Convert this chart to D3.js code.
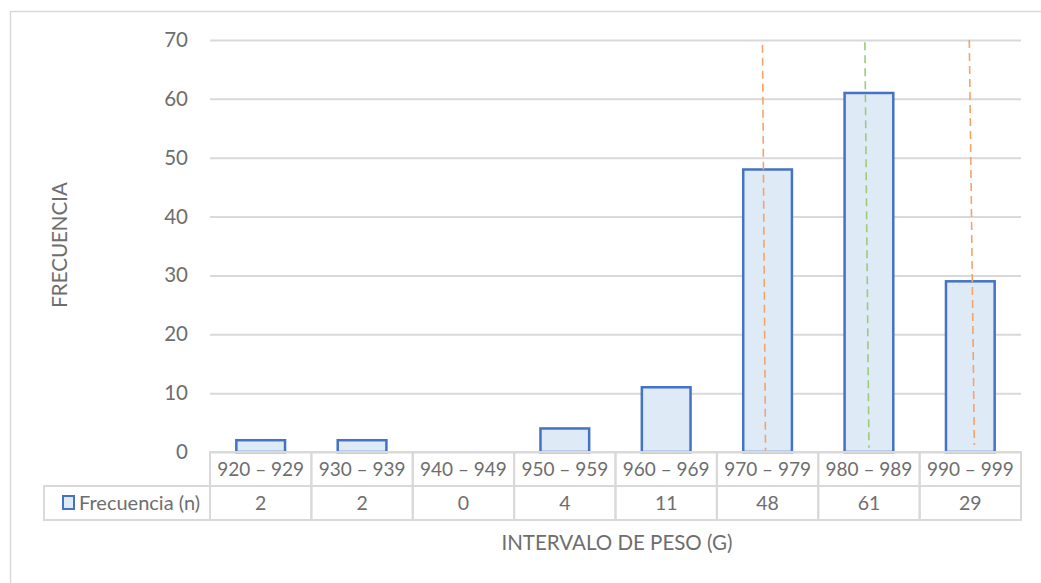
<!DOCTYPE html>
<html><head><meta charset="utf-8">
<script src="https://cdn.jsdelivr.net/npm/d3@7"></script>
<style>body{margin:0;background:#fff}svg{display:block}</style>
</head><body>
<script>
const categories = ["920 – 929","930 – 939","940 – 949","950 – 959","960 – 969","970 – 979","980 – 989","990 – 999"];
const frecuencia = [2,2,0,4,11,48,61,29];
const yTicks = [0,10,20,30,40,50,60,70];
const seriesName = "Frecuencia (n)";
// reference dashed lines: weight (g) positions at top/bottom and frequency extents
const refX1 = [974.5, 984.6, 994.9];
const refX2 = [974.8, 985.0, 995.4];
const refYTop = [69.2, 69.6, 70];
const refYBot = [0.2, 0.7, 1.2];
const refColors = ["#f4a36b","#9ccb7a","#f4a36b"];

(function(){
const W = 1041, H = 583;
const pLeft = 210, pRight = 1021, pTop = 40, pBottom = 452;
const rowH = 34;
const font = "Lato, 'Open Sans', sans-serif";
const txt = "#6e6e6e";

const svg = d3.select("body").append("svg").attr("width", W).attr("height", H);
svg.append("rect").attr("x",10.5).attr("y",11.5).attr("width",1100).attr("height",700)
  .attr("fill","#fff").attr("stroke","#d9d9d9").attr("stroke-width",1.5);

const x = d3.scaleBand().domain(categories).range([pLeft,pRight]).paddingInner(0.5).paddingOuter(0.25);
const xc = d3.scaleBand().domain(categories).range([pLeft,pRight]);
const y = d3.scaleLinear().domain([0,70]).range([pBottom,pTop]);
const xw = d3.scaleLinear().domain([920,1000]).range([pLeft,pRight]);

// grid
const yAxis = d3.axisLeft(y).tickValues(yTicks).tickSize(-(pRight-pLeft)).tickPadding(22);
const ga = svg.append("g").attr("transform",`translate(${pLeft},0)`).call(yAxis);
ga.select(".domain").remove();
ga.selectAll(".tick line").attr("stroke","#d9d9d9").attr("stroke-width",2);
ga.selectAll(".tick text").attr("fill",txt).style("font-family",font).style("font-size","20.5px");

// bars
svg.append("g").selectAll("rect").data(frecuencia).join("rect")
  .attr("x",(d,i)=>x(categories[i])+1)
  .attr("y",d=>y(d))
  .attr("width",x.bandwidth()-2)
  .attr("height",d=>pBottom-y(d))
  .attr("fill","#deebf7").attr("stroke","#4472c4").attr("stroke-width",2.5)
  .style("display",d=>d>0?null:"none");

// reference dashed lines
svg.append("g").selectAll("line").data(refX1).join("line")
  .attr("x1",(d)=>xw(d)).attr("x2",(d,i)=>xw(refX2[i]))
  .attr("y1",(d,i)=>y(refYTop[i])).attr("y2",(d,i)=>y(refYBot[i]))
  .attr("stroke",(d,i)=>refColors[i]).attr("stroke-width",1.6).attr("stroke-dasharray","8,5");

// data table
const tg = svg.append("g");
const lc = "#d9d9d9";
categories.forEach((c,i)=>{
  const x0 = xc(c);
  tg.append("rect").attr("x",x0).attr("y",pBottom).attr("width",xc.bandwidth()).attr("height",rowH)
    .attr("fill","none").attr("stroke",lc).attr("stroke-width",2);
  tg.append("rect").attr("x",x0).attr("y",pBottom+rowH).attr("width",xc.bandwidth()).attr("height",rowH)
    .attr("fill","none").attr("stroke",lc).attr("stroke-width",2);
  tg.append("text").attr("x",x0+xc.bandwidth()/2).attr("y",pBottom+rowH/2+7)
    .attr("text-anchor","middle").attr("fill",txt).style("font-family",font).style("font-size","19px").text(c);
  tg.append("text").attr("x",x0+xc.bandwidth()/2).attr("y",pBottom+rowH*1.5+7)
    .attr("text-anchor","middle").attr("fill",txt).style("font-family",font).style("font-size","19.5px").text(frecuencia[i]);
});
tg.append("rect").attr("x",44).attr("y",pBottom+rowH).attr("width",pLeft-44).attr("height",rowH)
  .attr("fill","none").attr("stroke",lc).attr("stroke-width",2);
tg.append("rect").attr("x",63).attr("y",pBottom+rowH+10).attr("width",11).attr("height",13)
  .attr("fill","#deebf7").attr("stroke","#4472c4").attr("stroke-width",2);
tg.append("text").attr("x",79).attr("y",pBottom+rowH*1.5+7).attr("fill",txt)
  .style("font-family",font).style("font-size","20px").text(seriesName);

// axis titles
svg.append("text").attr("transform","translate(67,245) rotate(-90)").attr("text-anchor","middle")
  .attr("fill",txt).style("font-family",font).style("font-size","20.5px").text("FRECUENCIA");
svg.append("text").attr("x",617).attr("y",550).attr("text-anchor","middle")
  .attr("fill",txt).style("font-family",font).style("font-size","20.5px").text("INTERVALO DE PESO (G)");
})();
</script>
</body></html>
